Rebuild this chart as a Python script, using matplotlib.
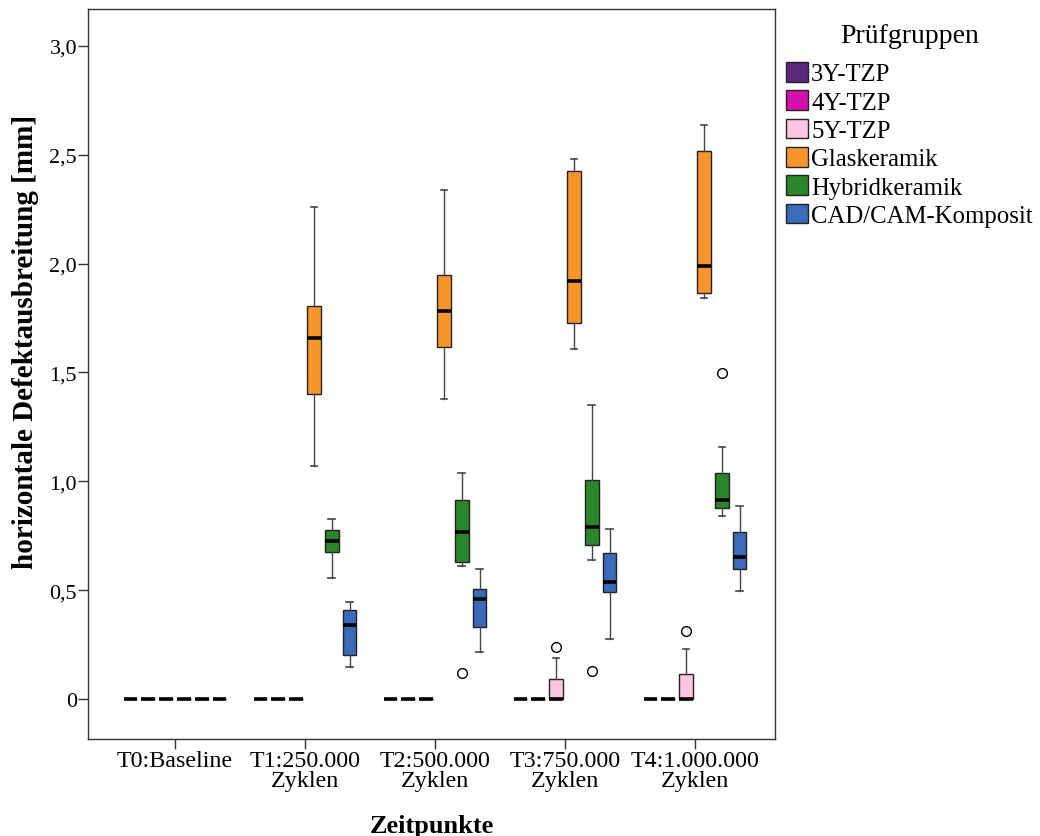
import matplotlib
matplotlib.use("Agg")
import matplotlib.pyplot as plt
from matplotlib.patches import Patch

plt.rcParams['font.family'] = ['Liberation Serif', 'DejaVu Serif']

# ---- data ----
timepoints = ["T0:Baseline", "T1:250.000\nZyklen", "T2:500.000\nZyklen",
              "T3:750.000\nZyklen", "T4:1.000.000\nZyklen"]
groups = ["3Y-TZP", "4Y-TZP", "5Y-TZP", "Glaskeramik", "Hybridkeramik", "CAD/CAM-Komposit"]
colors = ["#5B2A7C", "#D40FAA", "#FCC6E3", "#F8962C", "#2B8529", "#3A6BB8"]

# (whisker low, Q1, median, Q3, whisker high) per time point
tzp3 = [(0, 0, 0, 0, 0)] * 5
tzp4 = [(0, 0, 0, 0, 0)] * 5
tzp5 = [(0, 0, 0, 0, 0), (0, 0, 0, 0, 0), (0, 0, 0, 0, 0),
        (0, 0, 0, 0.092, 0.186), (0, 0, 0, 0.115, 0.230)]
glas = [(0, 0, 0, 0, 0), (1.07, 1.403, 1.658, 1.806, 2.262),
        (1.377, 1.617, 1.783, 1.949, 2.34), (1.608, 1.729, 1.922, 2.426, 2.479),
        (1.840, 1.865, 1.988, 2.519, 2.635)]
hybrid = [(0, 0, 0, 0, 0), (0.558, 0.676, 0.724, 0.778, 0.827),
          (0.609, 0.631, 0.765, 0.915, 1.039), (0.638, 0.708, 0.791, 1.007, 1.349),
          (0.839, 0.878, 0.916, 1.039, 1.159)]
cadcam = [(0, 0, 0, 0, 0), (0.147, 0.201, 0.340, 0.407, 0.445),
          (0.218, 0.330, 0.460, 0.505, 0.599), (0.276, 0.493, 0.539, 0.672, 0.779),
          (0.495, 0.599, 0.650, 0.766, 0.887)]

# outliers per time point
tzp3_out = [[], [], [], [], []]
tzp4_out = [[], [], [], [], []]
tzp5_out = [[], [], [], [0.238], [0.310]]
glas_out = [[], [], [], [], []]
hybrid_out = [[], [], [0.118], [0.128], [1.498]]
cadcam_out = [[], [], [], [], []]

series = [tzp3, tzp4, tzp5, glas, hybrid, cadcam]
outliers = [tzp3_out, tzp4_out, tzp5_out, glas_out, hybrid_out, cadcam_out]

# ---- figure ----
fig = plt.figure(figsize=(10.4, 8.37), dpi=100)
ax = fig.add_axes([88/1040, 1-740/837, 687/1040, 730/837])

step = 0.137
width = 0.105
for gi, (stats, outs, col) in enumerate(zip(series, outliers, colors)):
    offset = (gi - 2.5) * step
    for ti, (lo, q1, med, q3, hi) in enumerate(stats):
        d = dict(whislo=lo, q1=q1, med=med, q3=q3, whishi=hi, fliers=outs[ti])
        ax.bxp([d], positions=[ti + offset], widths=width, capwidths=0.05,
               showfliers=True, patch_artist=True, manage_ticks=False,
               boxprops=dict(facecolor=col, edgecolor="#222222", linewidth=1.0),
               medianprops=dict(color="black", linewidth=2.6, solid_capstyle="butt"),
               whiskerprops=dict(color="#444444", linewidth=1.0),
               capprops=dict(color="#444444", linewidth=1.2),
               flierprops=dict(marker="o", markerfacecolor="white",
                               markeredgecolor="black", markersize=7,
                               markeredgewidth=1.0, linestyle="none"))

ax.set_xlim(-0.669, 4.615)
ax.set_ylim(-0.184, 3.170)
ax.set_xticks(range(len(timepoints)))
ax.set_xticklabels(timepoints, fontsize=17.3, linespacing=0.9)
ax.set_yticks([0, 0.5, 1.0, 1.5, 2.0, 2.5, 3.0])
ax.set_yticklabels(["0", "0,5", "1,0", "1,5", "2,0", "2,5", "3,0"], fontsize=15.8)
ax.tick_params(axis="both", direction="out", length=7, width=1, color="#333333", pad=1)
for s in ax.spines.values():
    s.set_linewidth(1.0)
    s.set_color("#333333")

ax.set_xlabel("Zeitpunkte", fontsize=19, fontweight="bold", labelpad=17)
ax.set_ylabel("horizontale Defektausbreitung [mm]", fontsize=21, fontweight="bold")
ax.yaxis.set_label_coords(-0.071, 0.545)

handles = [Patch(facecolor=c, edgecolor="#222222", linewidth=1.0) for c in colors]
leg = fig.legend(handles, groups, loc="upper left", bbox_to_anchor=(786/1040, 1-24/837),
                 frameon=False, fontsize=17.8, title="Prüfgruppen", title_fontsize=20,
                 handlelength=0.9, handleheight=0.85, handletextpad=0.12,
                 labelspacing=0.2, borderpad=0, borderaxespad=0)
leg._legend_box.sep = 10

fig.savefig("out.png", dpi=100)
